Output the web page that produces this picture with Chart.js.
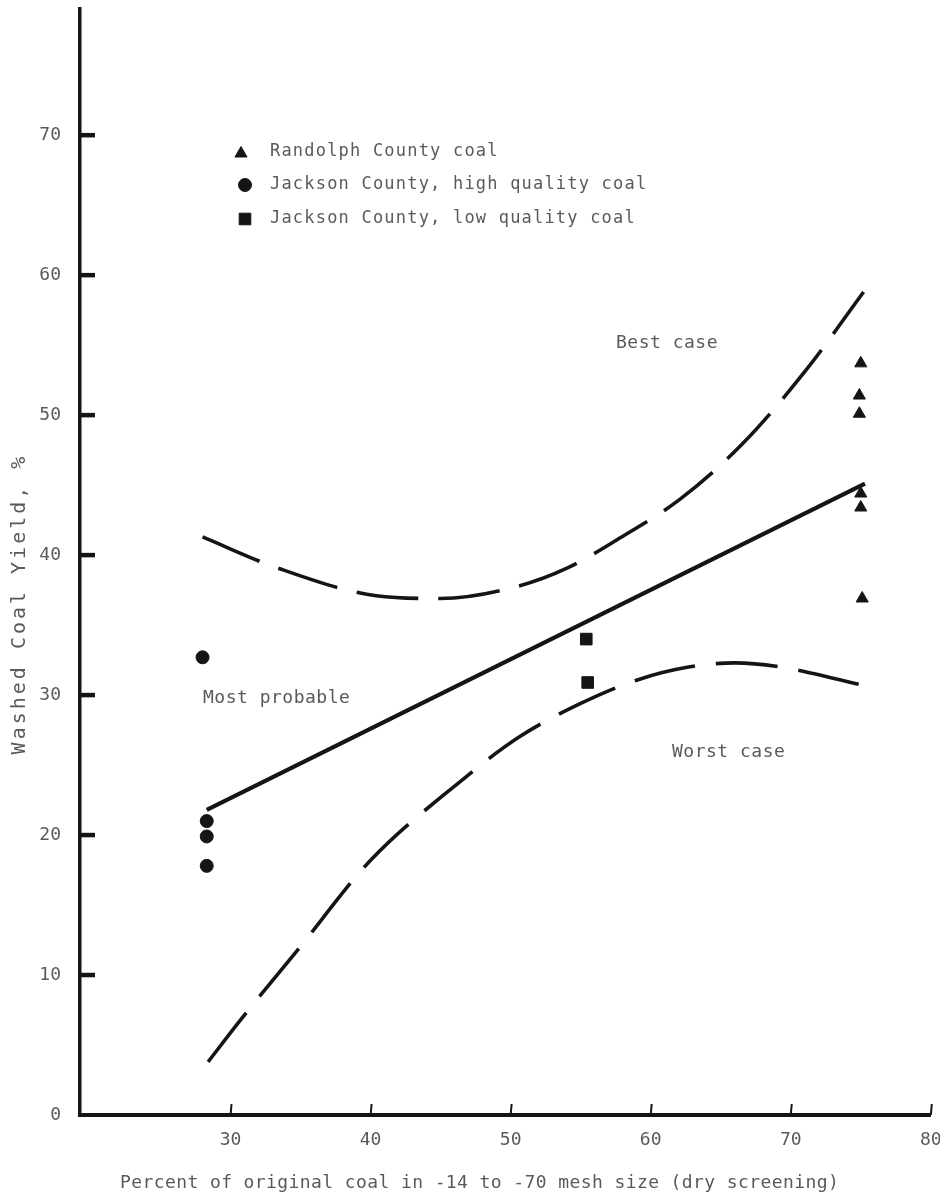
<!DOCTYPE html>
<html>
<head>
<meta charset="utf-8">
<title>Washed coal yield vs fine coal fraction</title>
<style>
  html, body { margin: 0; padding: 0; background: #fff; }
  #wrap { position: relative; width: 940px; height: 1199px; }
</style>
<script src="https://cdn.jsdelivr.net/npm/chart.js@4.4.1/dist/chart.umd.min.js"></script>
</head>
<body>
<div id="wrap"><canvas id="c"></canvas></div>
<script>
// Percent of original coal in -14 to -70 mesh (x) against washed coal yield, % (y)
const randolphX = [75.0, 74.9, 74.9, 75.0, 75.0, 75.1];
const randolphY = [53.7, 51.4, 50.1, 44.4, 43.4, 36.9];

const jacksonHighX = [28.0, 28.3, 28.3, 28.3];
const jacksonHighY = [32.7, 21.0, 19.9, 17.8];

const jacksonLowX = [55.4, 55.5];
const jacksonLowY = [34.0, 30.9];

// Fitted "most probable" line and the best / worst case envelopes
const probableX = [28.3, 75.3];
const probableY = [21.8, 45.1];

const bestX = [28.0, 33.3, 40.4, 45.0, 50.6, 54.1, 57.6, 62.1, 66.5, 71.0, 75.2];
const bestY = [41.3, 39.1, 37.1, 36.9, 37.8, 39.1, 41.1, 44.0, 47.9, 53.1, 58.8];

const worstX = [28.4, 30.8, 34.8, 40.0, 46.0, 50.6, 55.0, 59.1, 62.7, 66.0, 69.3, 75.6];
const worstY = [3.8, 6.9, 11.8, 18.2, 23.5, 27.0, 29.4, 31.1, 32.0, 32.3, 32.0, 30.6];

const xTicks = [30, 40, 50, 60, 70, 80];
const yTicks = [0, 10, 20, 30, 40, 50, 60, 70];

const legendNames = [
  'Randolph County coal',
  'Jackson County, high quality coal',
  'Jackson County, low quality coal'
];
const curveNames = ['Most probable', 'Best case', 'Worst case'];
const xTitle = 'Percent of original coal in -14 to -70 mesh size (dry screening)';
const yTitle = 'Washed Coal Yield, %';

const pts = (xs, ys) => xs.map((x, i) => ({ x: x, y: ys[i] }));

const INK = '#151515';
const TEXT = '#5a5a5a';
const MONO = '"DejaVu Sans Mono", "Liberation Mono", monospace';

const markerStyles = [
  { pointStyle: 'triangle', radius: 7 },
  { pointStyle: 'circle', radius: 6.5 },
  { pointStyle: 'rect', radius: 8.2 }
];

// Inward tick marks on both axes
const axisMarks = {
  id: 'axisMarks',
  afterDatasetsDraw(chart) {
    const { ctx, chartArea } = chart;
    const xs = chart.scales.x, ys = chart.scales.y;
    ctx.save();
    ctx.strokeStyle = INK;
    ctx.lineCap = 'butt';
    ctx.lineWidth = 4.5;
    yTicks.forEach(v => {
      if (v === 0) return;
      const py = ys.getPixelForValue(v);
      ctx.beginPath();
      ctx.moveTo(chartArea.left, py);
      ctx.lineTo(chartArea.left + 15, py);
      ctx.stroke();
    });
    ctx.lineWidth = 2;
    xTicks.forEach(v => {
      const px = xs.getPixelForValue(v);
      ctx.beginPath();
      ctx.moveTo(px, chartArea.bottom);
      ctx.lineTo(px + 1, chartArea.bottom - 11);
      ctx.stroke();
    });
    ctx.restore();
  }
};

function drawMarker(ctx, style, x, y) {
  ctx.fillStyle = INK;
  ctx.strokeStyle = INK;
  ctx.lineWidth = 1;
  if (Chart.helpers && Chart.helpers.drawPoint) {
    Chart.helpers.drawPoint(ctx, { pointStyle: style.pointStyle, radius: style.radius, rotation: 0, borderWidth: 1 }, x, y);
    return;
  }
  ctx.beginPath();
  ctx.arc(x, y, style.radius, 0, Math.PI * 2);
  ctx.fill();
}

// Legend, curve labels and axis titles
const annotations = {
  id: 'annotations',
  afterDraw(chart) {
    const { ctx } = chart;
    ctx.save();
    ctx.fillStyle = TEXT;
    ctx.textBaseline = 'middle';

    // legend
    const rows = [152, 185, 219];
    const markX = [241, 245, 245];
    ctx.font = '17px ' + MONO;
    ctx.letterSpacing = '1.2px';
    legendNames.forEach((name, i) => {
      drawMarker(ctx, markerStyles[i], markX[i], rows[i] + (i === 0 ? 1.5 : 0));
      ctx.fillStyle = TEXT;
      ctx.textAlign = 'left';
      ctx.fillText(name, 270, rows[i]);
    });

    // curve labels
    ctx.font = '18px ' + MONO;
    ctx.letterSpacing = '0.5px';
    ctx.fillText(curveNames[0], 203, 698);
    ctx.fillText(curveNames[1], 616, 343);
    ctx.fillText(curveNames[2], 672, 752);

    // x title
    ctx.font = '18px ' + MONO;
    ctx.letterSpacing = '0.4px';
    ctx.fillText(xTitle, 120, 1183);

    // y title
    ctx.translate(20, 604);
    ctx.rotate(-Math.PI / 2);
    ctx.textAlign = 'center';
    ctx.font = '20px ' + MONO;
    ctx.letterSpacing = '3px';
    ctx.fillText(yTitle, 0, 0);
    ctx.restore();
  }
};

const markerSet = (label, xs, ys, style) => ({
  label: label,
  data: pts(xs, ys),
  showLine: false,
  pointStyle: style.pointStyle,
  pointRadius: style.radius,
  pointHoverRadius: style.radius,
  pointBackgroundColor: INK,
  pointBorderColor: INK,
  pointBorderWidth: 1
});

const curveSet = (label, xs, ys, dash, width) => ({
  label: label,
  data: pts(xs, ys),
  showLine: true,
  borderColor: INK,
  borderWidth: width,
  borderDash: dash,
  borderCapStyle: 'butt',
  cubicInterpolationMode: 'monotone',
  pointRadius: 0,
  pointHoverRadius: 0,
  fill: false
});

new Chart(document.getElementById('c'), {
  type: 'scatter',
  data: {
    datasets: [
      curveSet(curveNames[1], bestX, bestY, [62, 20], 3.6),
      curveSet(curveNames[2], worstX, worstY, [62, 21], 3.6),
      curveSet(curveNames[0], probableX, probableY, [], 4.2),
      markerSet(legendNames[0], randolphX, randolphY, markerStyles[0]),
      markerSet(legendNames[1], jacksonHighX, jacksonHighY, markerStyles[1]),
      markerSet(legendNames[2], jacksonLowX, jacksonLowY, markerStyles[2])
    ]
  },
  options: {
    responsive: true,
    maintainAspectRatio: false,
    animation: false,
    events: [],
    layout: { padding: { left: 0, right: 7, top: 8, bottom: 0 } },
    plugins: {
      legend: { display: false },
      tooltip: { enabled: false },
      title: { display: false }
    },
    scales: {
      x: {
        type: 'linear',
        position: 'bottom',
        min: 19.25,
        max: 80,
        afterBuildTicks: s => { s.ticks = xTicks.map(v => ({ value: v })); },
        afterFit: s => { s.height = 84; s.paddingLeft = 0; s.paddingRight = 0; },
        border: { display: true, color: INK, width: 4 },
        grid: { display: false, drawTicks: false },
        ticks: {
          color: TEXT,
          padding: 15,
          maxRotation: 0,
          autoSkip: false,
          font: { family: MONO, size: 18 }
        }
      },
      y: {
        type: 'linear',
        position: 'left',
        min: 0,
        max: 79,
        afterBuildTicks: s => { s.ticks = yTicks.map(v => ({ value: v })); },
        afterFit: s => { s.width = 80; s.paddingTop = 0; s.paddingBottom = 0; },
        border: { display: true, color: INK, width: 3.5 },
        grid: { display: false, drawTicks: false },
        ticks: {
          color: TEXT,
          padding: 19,
          autoSkip: false,
          font: { family: MONO, size: 18 }
        }
      }
    }
  },
  plugins: [axisMarks, annotations]
});
</script>
</body>
</html>
